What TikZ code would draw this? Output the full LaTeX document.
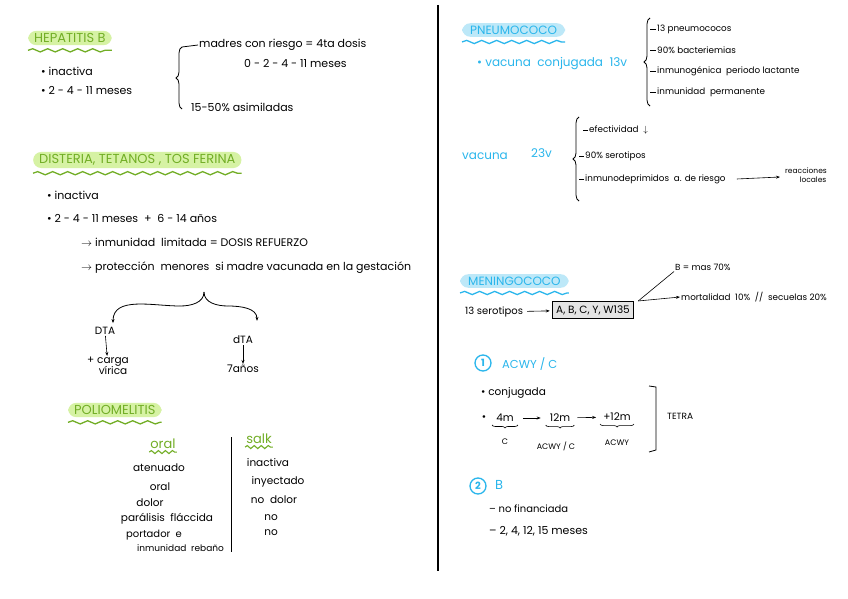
\documentclass[tikz,border=0pt]{standalone}
\usepackage{fontspec}
\setmainfont{Poppins}
\usetikzlibrary{positioning,decorations.pathmorphing,decorations.pathreplacing,arrows.meta}
\definecolor{hlgreen}{HTML}{D6F2A4}
\definecolor{ttlgreen}{HTML}{72AE26}
\definecolor{hlblue}{HTML}{BDE8F8}
\definecolor{ttlblue}{HTML}{2AB6EC}
\definecolor{boxgray}{HTML}{E4E4E4}

\tikzset{
  txt/.style={anchor=west,inner sep=1pt,font=\fontsize{11}{13}\selectfont},
  small/.style={anchor=west,inner sep=1pt,font=\fontsize{8.8}{10}\selectfont},
  mid/.style={inner sep=1pt,font=\fontsize{10.5}{12}\selectfont,align=center},
  greentitle/.style={anchor=west,fill=hlgreen,text=ttlgreen,rounded corners=8pt,
    inner xsep=6pt,inner ysep=2.5pt,font=\fontsize{13}{15}\selectfont},
  bluetitle/.style={anchor=west,fill=hlblue,text=ttlblue,rounded corners=8pt,
    inner xsep=8pt,inner ysep=2.5pt,font=\fontsize{12}{14}\selectfont},
  greenwave/.style={ttlgreen,line width=1.3pt,decorate,
    decoration={snake,amplitude=1.6pt,segment length=15pt}},
  bluewave/.style={ttlblue,line width=1.3pt,decorate,
    decoration={snake,amplitude=1.6pt,segment length=15pt}},
  scallop/.style={ttlgreen,line width=1.1pt,decorate,
    decoration={snake,amplitude=1.5pt,segment length=7pt}},
  greenlbl/.style={inner sep=1pt,text=ttlgreen,font=\fontsize{13}{15}\selectfont},
  bluetxt/.style={anchor=west,inner sep=1pt,text=ttlblue,font=\fontsize{12}{14}\selectfont},
  brace/.style={decorate,decoration={brace,amplitude=6pt},thick},
  ubrace/.style={decorate,decoration={brace,amplitude=3pt},semithick},
  circnum/.style={circle,draw=ttlblue,line width=1.3pt,text=ttlblue,inner sep=1pt,
    minimum size=16pt,font=\fontsize{10}{11}\selectfont\bfseries},
  serobox/.style={draw,thick,fill=boxgray,inner xsep=4pt,inner ysep=4pt,
    font=\fontsize{10.5}{12}\selectfont},
  arr/.style={-{Stealth[length=4pt]},semithick}
}

\begin{document}
\begin{tikzpicture}[x=1pt,y=-1pt]
  \useasboundingbox[fill=white] (0,0) rectangle (848,599);

  % middle line
  \draw[line width=1.6pt] (438,5) -- (438,571);

  % hepatitis b
  \node[greentitle] (hep) at (28,38) {HEPATITIS B};
  \draw[greenwave] ([yshift=-5pt]hep.south west) -- ([yshift=-5pt]hep.south east);
  \node[txt] (hep1) at (40,71) {• inactiva};
  \node[txt] (hep2) at (40,91) {• 2 - 4 - 11 meses};
  \node[txt] (hepa) at (198,45) {madres con riesgo = 4ta dosis};
  \node[txt] (hepb) at (243,64) {0 - 2 - 4 - 11 meses};
  \node[txt] (hepc) at (190,107) {15-50\% asimiladas};
  \draw[brace] (182,109) -- (182,47);
  \draw[thick] (182,47) -- (hepa.west);

  % difteria
  \node[greentitle] (dtp) at (33,160) {DISTERIA, TETANOS , TOS FERINA};
  \draw[greenwave] ([yshift=-5pt]dtp.south west) -- ([yshift=-5pt]dtp.south east);
  \node[txt] (dtp1) at (46,195) {• inactiva};
  \node[txt] (dtp2) at (46,218) {• 2 - 4 - 11 meses \ + \ 6 - 14 años};
  \node[txt] (dtp3) at (80,242) {$\rightarrow$ inmunidad \ limitada = DOSIS REFUERZO};
  \node[txt] (dtp4) at (80,268) {$\rightarrow$ protección \ menores \ si madre vacunada en la gestación};
  \coordinate (split) at (204,292);
  \coordinate (splitl) at (180,306);
  \coordinate (splitr) at (228,306);
  \node[mid] (dta) at (105,331) {DTA};
  \node[mid] (carga) at (108,366) {+ carga\\[-1pt]\hspace*{10pt}vírica};
  \node[mid] (dta2) at (243,340) {dTA};
  \node[mid] (anos) at (243,369) {7años};
  \draw[thick] (split) to[out=-90,in=0] (splitl);
  \draw[thick] (split) to[out=-90,in=180] (splitr);
  \draw[arr,thick] (splitl) to[out=180,in=90] ([xshift=8pt,yshift=3pt]dta.north);
  \draw[arr,thick] (splitr) to[out=0,in=90] ([xshift=14pt,yshift=14pt]dta2.north);
  \draw[arr] (dta) -- (carga);
  \draw[arr] (dta2) -- (anos);

  % polio
  \node[greentitle] (polio) at (68,410) {POLIOMELITIS};
  \draw[greenwave] ([yshift=-5pt]polio.south west) -- ([yshift=-5pt]polio.south east);
  \node[greenlbl] (oral) at (163,444) {oral};
  \draw[scallop] ([yshift=-2pt]oral.south west) -- ([yshift=-2pt]oral.south east);
  \node[greenlbl] (salk) at (259,439) {salk};
  \draw[scallop] ([yshift=-2pt]salk.south west) -- ([yshift=-2pt]salk.south east);
  \draw[thick] (231,437) -- (231,552);
  \node[mid] (at) at (159,468) {atenuado};
  \node[mid] (or) at (160,487) {oral};
  \node[mid] (do) at (150,503) {dolor};
  \node[mid] (pa) at (167,519) {parálisis \ fláccida};
  \node[txt,font=\fontsize{10}{12}\selectfont] (po) at (125,535) {portador \ e};
  \node[txt,font=\fontsize{9}{11}\selectfont] (in) at (136,548) {inmunidad \ rebaño};
  \node[mid] (s1) at (268,463) {inactiva};
  \node[mid] (s2) at (278,482) {inyectado};
  \node[mid] (s3) at (274,500) {no \ dolor};
  \node[mid] (s4) at (271,518) {no};
  \node[mid] (s5) at (271,533) {no};

  % pneumococo
  \node[bluetitle] (pneumo) at (462,30) {PNEUMOCOCO};
  \draw[bluewave] ([yshift=-5pt]pneumo.south west) -- ([yshift=-5pt]pneumo.south east);
  \node[bluetxt] (conj) at (476,64) {• vacuna \ conjugada \ 13v};
  \node[small] (pn1) at (656,29) {13 pneumococos};
  \node[small] (pn2) at (656,50) {90\% bacteriemias};
  \node[small] (pn3) at (656,71) {inmunogénica \ periodo lactante};
  \node[small] (pn4) at (656,92) {inmunidad \ permanente};
  \draw[brace] (650,106) -- (650,18);
  \foreach \p in {pn1,pn2,pn3,pn4}
    \draw[semithick] (\p.west) -- ++(-6pt,0);
  \node[bluetxt] (v23) at (461,156) {vacuna};
  \node[bluetxt] (v23n) at (530,153) {23v};
  \node[small] (ef) at (588,130) {efectividad \ $\downarrow$};
  \node[small] (se) at (584,156) {90\% serotipos};
  \node[small] (im) at (584,179) {inmunodeprimidos \ a. de riesgo};
  \node[small,anchor=center,align=center,font=\fontsize{7.5}{8.5}\selectfont] (re) at (806,175) {reacciones\\\hspace*{14pt}locales};
  \draw[brace] (579,201) -- (579,117);
  \foreach \p in {ef,se,im}
    \draw[semithick] (\p.west) -- ++(-5pt,0);
  \draw[arr] ([xshift=10pt]im.east) -- ([xshift=-4pt,yshift=-2pt]re.west);

  % meningococo
  \node[bluetitle] (menin) at (460,281) {MENINGOCOCO};
  \draw[bluewave] ([yshift=-5pt]menin.south west) -- ([yshift=-5pt]menin.south east);
  \node[txt,font=\fontsize{10}{12}\selectfont] (sero) at (464,312) {13 serotipos};
  \node[serobox] (sgrp) at (593,310) {A, B, C, Y, W135};
  \draw[arr,shorten <=3pt,shorten >=2pt] (sero) -- (sgrp);
  \node[small] (bmas) at (674,267) {B = mas 70\%};
  \node[small] (mort) at (680,297) {mortalidad \ 10\% \ // \ secuelas 20\%};
  \draw[semithick] ([xshift=4pt]sgrp.north east) -- (bmas.south west);
  \draw[arr] ([xshift=4pt]sgrp.north east) -- (mort.west);

  \node[circnum] (n1) at (483,363) {1};
  \node[bluetxt,font=\fontsize{11.5}{13}\selectfont] (acwy) at (501,364) {ACWY / C};
  \node[txt,font=\fontsize{10.5}{12}\selectfont] (conjb) at (480,393) {• conjugada};
  \node[mid] (bul) at (484,418) {•};
  \node[mid] (m4) at (505,418) {4m};
  \node[mid] (m12) at (560,418) {12m};
  \node[mid] (m12p) at (617,417) {+12m};
  \draw[arr,shorten <=8pt,shorten >=8pt] (m4) -- (m12);
  \draw[arr,shorten <=6pt,shorten >=6pt] (m12) -- (m12p);
  \draw[ubrace] ([xshift=3pt,yshift=-2pt]m4.south east) -- ([xshift=-3pt,yshift=-2pt]m4.south west);
  \draw[ubrace] ([xshift=3pt,yshift=-2pt]m12.south east) -- ([xshift=-3pt,yshift=-2pt]m12.south west);
  \draw[ubrace] ([xshift=2pt,yshift=-2pt]m12p.south east) -- ([xshift=-2pt,yshift=-2pt]m12p.south west);
  \node[mid,font=\fontsize{8}{9}\selectfont] (lc) at (505,442) {C};
  \node[mid,font=\fontsize{8}{9}\selectfont] (lac) at (556,446) {ACWY / C};
  \node[mid,font=\fontsize{8}{9}\selectfont] (lacwy) at (617,443) {ACWY};
  \draw[thick] (649,386) -- (656,387) -- (656,450) -- (649,452);
  \node[txt,font=\fontsize{9}{10}\selectfont] (tetra) at (666,416) {TETRA};

  \node[circnum] (n2) at (478,486) {2};
  \node[bluetxt,font=\fontsize{13}{15}\selectfont] (bb) at (494,485) {B};
  \node[txt,font=\fontsize{10}{12}\selectfont] (nf) at (488,509) {– no financiada};
  \node[txt,font=\fontsize{11}{13}\selectfont] (dos) at (488,531) {– 2, 4, 12, 15 meses};
\end{tikzpicture}
\end{document}
